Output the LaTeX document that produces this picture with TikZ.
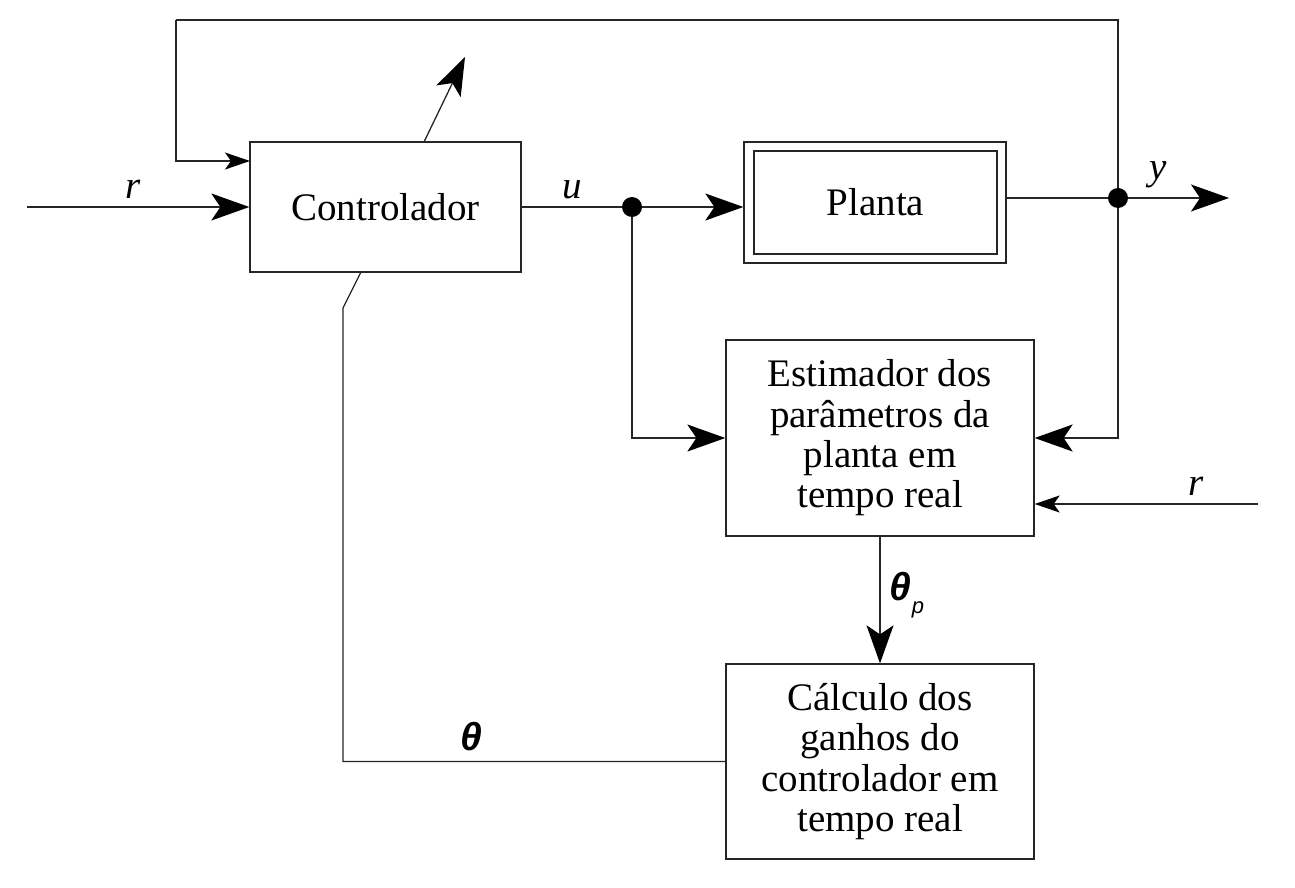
\documentclass[tikz,border=0pt]{standalone}
\usepackage{fontspec}
\setmainfont{Liberation Serif}
\newfontfamily\grsans{Liberation Sans}
\usetikzlibrary{arrows.meta,calc}
\begin{document}
\begin{tikzpicture}[x=1pt,y=-1pt,
  ln/.style={line width=1.3pt, draw=black!85},
  blk/.style={ln, rectangle, inner sep=0pt, align=center, font=\fontsize{39}{40.3}\selectfont},
  bigarr/.style={ln, -{Stealth[length=38pt,width=27pt,inset=9pt,color=black]}},
  smallarr/.style={ln, -{Stealth[length=25pt,width=17pt,inset=6pt,color=black]}},
  dot/.style={circle, fill=black, minimum size=20pt, inner sep=0pt},
  lbl/.style={font=\fontsize{39}{39}\selectfont\itshape, inner sep=0pt},
  th/.style={font=\fontsize{39}{39}\selectfont\grsans\bfseries\itshape, inner sep=0pt}
]
\useasboundingbox (0,0) rectangle (1295,888);

% blocks
\node[blk, minimum width=271pt, minimum height=130pt] (ctrl) at (385.5,207) {Controlador};
\node[blk, minimum width=262pt, minimum height=121pt] (planta) at (875,202.5) {};
\node[blk, minimum width=243pt, minimum height=103pt] (plantain) at (875.5,202.5) {Planta};
\node[blk, minimum width=308pt, minimum height=196pt] (est) at (880,438) {Estimador dos\\par\^ametros da\\planta em\\tempo real};
\node[blk, minimum width=308pt, minimum height=195pt] (calc) at (880,761.5) {C\'alculo dos\\ganhos do\\controlador em\\tempo real};

% junctions
\node[dot] (du) at (632,207) {};
\node[dot] (dy) at (1118,198) {};

% free ends
\coordinate (rin) at (27,207);
\coordinate (yout) at (1229,198);
\coordinate (fbtop) at (176,20);
\coordinate (fbin) at (250,161);
\coordinate (rr) at (1258,504);
\coordinate (ctop) at (424,142);
\coordinate (ctip) at (465,57);
\coordinate (cbot) at (361,272);
\coordinate (bend) at (343,308);

% connectors
\draw[bigarr] (rin) -- (ctrl.west);
\draw[ln] (ctrl.east) -- (du);
\draw[bigarr] (du) -- (du -| planta.west);
\draw[ln] (dy -| planta.east) -- (dy);
\draw[bigarr] (dy) -- (yout);
\draw[ln] (dy) |- (fbtop);
\draw[smallarr] (fbtop) |- (fbin);
\draw[bigarr] (dy) |- (est.east);
\draw[smallarr] (rr) -- (rr -| est.east);
\draw[bigarr] (du) |- (est.west);
\draw[bigarr] (est.south) -- (calc.north);
\draw[ln] (calc.west) -| (bend) -- (cbot);
\draw[bigarr] (ctop) -- (ctip);

% labels
\node[lbl] (lr) at (133,189) {r};
\node[lbl] (lu) at (572,190) {u};
\node[lbl] (ly) at (1158,175) {y};
\node[lbl] (lr2) at (1196,486) {r};
\node[th] (lth) at (471,737) {θ};
\node[th] (lthp) at (900,587) {θ};
\node[inner sep=0pt, font=\fontsize{22}{22}\selectfont\grsans\itshape] (lp) at (918,610) {p};
\end{tikzpicture}
\end{document}
